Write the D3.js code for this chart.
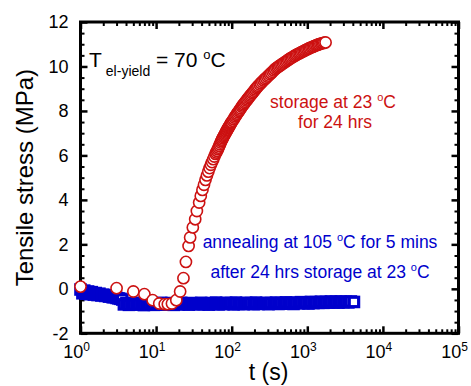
<!DOCTYPE html>
<html>
<head>
<meta charset="utf-8">
<script src="https://cdn.jsdelivr.net/npm/d3@7"></script>
<style>
  body { margin: 0; background: #fff; }
  svg { display: block; }
  text { font-family: "Liberation Sans", Arial, sans-serif; }
</style>
</head>
<body>
<div class="stress-chart"></div>
<script>
// storage at 23 C for 24 hrs (red circles)
var storedTime = [1, 3, 5, 7, 9, 11, 13, 14.3, 16.2, 18.5,
  20.8, 23, 24.8, 26.9, 28.2, 30.6, 32.9, 34.6, 37.1, 39,
  41, 43, 45, 47, 49, 51, 53, 55, 57, 59, 61,
  62.5, 64, 65.5, 67, 68.5, 70, 71.5, 73, 74.5, 76, 77.5, 79, 80.5,
  82, 83.5, 85, 86.5, 88, 89.5, 91, 92.5, 94, 95.5, 97, 98.5, 100,
  103, 106, 109, 112, 115, 118, 121.5, 125, 128.5, 132, 136, 140, 144, 148,
  152.5, 157, 161.5, 166, 171, 176, 181.5, 187, 193, 199, 205.5, 212, 218.5, 225,
  234, 243, 253, 263, 274, 285, 296, 308, 320, 333, 346, 360, 375, 390,
  406, 422, 439, 456, 475, 494, 514, 534, 556, 578, 601, 625, 651, 677,
  704, 732, 762, 792, 824, 857, 892, 928, 965, 1004, 1045, 1086, 1130, 1175,
  1223, 1272, 1323, 1376, 1432, 1489, 1549, 1611, 1676, 1745];
var storedStress = [0.10, 0.03, -0.12, -0.24, -0.51, -0.66, -0.69, -0.69, -0.66, -0.51,
  -0.12, 0.48, 1.21, 1.93, 2.31, 2.76, 3.13, 3.50, 3.88, 4.18,
  4.45, 4.68, 4.90, 5.10, 5.27, 5.43, 5.58, 5.70, 5.83, 5.95, 6.07,
  6.13, 6.20, 6.28, 6.35, 6.43, 6.50, 6.58, 6.65, 6.71, 6.77, 6.83, 6.88, 6.93,
  6.98, 7.03, 7.08, 7.13, 7.17, 7.22, 7.26, 7.30, 7.34, 7.38, 7.42, 7.46, 7.50,
  7.56, 7.63, 7.70, 7.76, 7.82, 7.88, 7.94, 8.00, 8.06, 8.12, 8.19, 8.25, 8.30, 8.36,
  8.41, 8.47, 8.52, 8.58, 8.63, 8.69, 8.74, 8.80, 8.85, 8.91, 8.97, 9.03, 9.08, 9.13,
  9.19, 9.25, 9.31, 9.37, 9.43, 9.48, 9.54, 9.59, 9.65, 9.70, 9.76, 9.82, 9.88, 9.93,
  9.97, 10.01, 10.05, 10.09, 10.13, 10.17, 10.21, 10.25, 10.29, 10.33, 10.37, 10.40, 10.44, 10.47,
  10.51, 10.54, 10.57, 10.60, 10.63, 10.66, 10.69, 10.72, 10.75, 10.78, 10.81, 10.83, 10.86, 10.88,
  10.91, 10.93, 10.96, 10.98, 11.00, 11.02, 11.04, 11.05, 11.07, 11.08];

// annealing at 105 C for 5 mins after storage (blue squares)
var annealedTime = [1.00, 1.06, 1.12, 1.19, 1.26, 1.33, 1.41, 1.50, 1.59, 1.68,
  1.78, 1.89, 2.00, 2.12, 2.25, 2.38, 2.52, 2.67, 2.83, 3.00, 3.18, 3.37, 3.57,
  3.75, 4.05, 4.37, 4.71, 5.08, 5.48, 5.92, 6.38, 6.89, 7.43,
  8.02, 8.65, 9.33, 10.1, 10.9, 11.7, 12.7, 13.7, 14.7, 15.9,
  17.1, 18.5, 19.9, 21.5, 23.2, 25.0, 27.0, 29.1, 31.4, 33.9,
  36.6, 39.5, 42.6, 45.9, 49.6, 53.5, 57.7, 62.2, 67.1, 72.4,
  78.1, 84.3, 91.0, 98.1, 106, 114, 123, 133, 144, 155,
  167, 180, 195, 210, 227, 245, 264, 285, 307, 331,
  358, 386, 416, 449, 485, 523, 564, 609, 657, 709,
  765, 825, 890, 960, 1036, 1118, 1206, 1301, 1404, 1515,
  1634, 1763, 1902, 2053, 2215, 2390, 2578, 2782, 3001, 3238,
  3494, 3770, 4140];
var annealedStress = [-0.03, -0.20, -0.08, -0.22, -0.12, -0.24, -0.15, -0.26, -0.19, -0.28,
  -0.22, -0.30, -0.26, -0.32, -0.29, -0.35, -0.33, -0.38, -0.37, -0.41, -0.43, -0.45, -0.48,
  -0.70, -0.64, -0.72, -0.66, -0.71, -0.63, -0.70, -0.67, -0.73, -0.65,
  -0.69, -0.64, -0.72, -0.66, -0.70, -0.63, -0.71, -0.67, -0.69, -0.64,
  -0.72, -0.66, -0.70, -0.63, -0.69, -0.65, -0.71, -0.64, -0.68, -0.66,
  -0.70, -0.63, -0.69, -0.65, -0.71, -0.64, -0.68, -0.62, -0.70, -0.65,
  -0.69, -0.63, -0.67, -0.64, -0.70, -0.62, -0.68, -0.65, -0.69, -0.63,
  -0.67, -0.64, -0.69, -0.62, -0.68, -0.65, -0.67, -0.63, -0.69, -0.64,
  -0.66, -0.62, -0.68, -0.64, -0.67, -0.61, -0.66, -0.63, -0.68, -0.62,
  -0.65, -0.60, -0.64, -0.61, -0.66, -0.59, -0.64, -0.60, -0.63, -0.58,
  -0.63, -0.59, -0.62, -0.57, -0.61, -0.58, -0.62, -0.57, -0.60, -0.58,
  -0.61, -0.57, -0.59];

var yTicks = [-2, 0, 2, 4, 6, 8, 10, 12];
var yMinorStep = 0.5;
var xExponents = [0, 1, 2, 3, 4, 5];
var xMinorFactors = [2, 3, 4, 5, 6, 7, 8, 9];

var red = "#cc1111", blue = "#0000cc";
var width = 471, height = 386;
var plotLeft = 80.5, plotRight = 458.5, plotTop = 22, plotBottom = 333.3;

var svg = d3.select(".stress-chart").append("svg")
  .attr("width", width).attr("height", height);

var x = d3.scaleLog().domain([1, 1e5]).range([plotLeft, plotRight]);
var y = d3.scaleLinear().domain([-2, 12]).range([plotBottom, plotTop]);

var xMajor = xExponents.map(function (e) { return Math.pow(10, e); });
var xMinor = [];
xExponents.slice(0, -1).forEach(function (e) {
  xMinorFactors.forEach(function (f) { xMinor.push(f * Math.pow(10, e)); });
});
var yMinor = d3.range(-2, 12 + 1e-9, yMinorStep).filter(function (v) { return yTicks.indexOf(v) < 0; });

// ticks on all four sides, pointing inward
function ticks(axis, vals, size, sw, tx, ty) {
  var g = svg.append("g").attr("transform", "translate(" + tx + "," + ty + ")")
    .call(axis.tickValues(vals).tickSize(-size).tickSizeOuter(0).tickFormat(""));
  g.select(".domain").remove();
  g.selectAll("line").attr("stroke", "#000").attr("stroke-width", sw);
  return g;
}
ticks(d3.axisBottom(x), xMajor, 7, 2.5, 0, plotBottom);
ticks(d3.axisBottom(x), xMinor, 4, 2, 0, plotBottom);
ticks(d3.axisTop(x), xMajor, 7, 2.5, 0, plotTop);
ticks(d3.axisTop(x), xMinor, 4, 2, 0, plotTop);
ticks(d3.axisLeft(y), yTicks, 7, 2.5, plotLeft, 0);
ticks(d3.axisLeft(y), yMinor, 4, 2, plotLeft, 0);
ticks(d3.axisRight(y), yTicks, 7, 2.5, plotRight, 0);
ticks(d3.axisRight(y), yMinor, 4, 2, plotRight, 0);

svg.append("rect")
  .attr("x", plotLeft).attr("y", plotTop)
  .attr("width", plotRight - plotLeft).attr("height", plotBottom - plotTop)
  .attr("fill", "none").attr("stroke", "#000").attr("stroke-width", 3);

// tick labels
svg.append("g").selectAll("text").data(yTicks).enter().append("text")
  .attr("x", plotLeft - 12).attr("y", function (d) { return y(d); })
  .attr("dy", "0.35em").attr("text-anchor", "end")
  .style("font-size", "18px")
  .text(function (d) { return d; });

var xl = svg.append("g").selectAll("text").data(xExponents).enter().append("text")
  .attr("x", function (d) { return x(Math.pow(10, d)) - 4; })
  .attr("y", 358).attr("text-anchor", "middle")
  .style("font-size", "18px");
xl.append("tspan").text("10");
xl.append("tspan").attr("dy", -7.5).style("font-size", "12px").text(function (d) { return d; });

// axis titles
svg.append("text")
  .attr("x", (plotLeft + plotRight) / 2 - 1).attr("y", 380)
  .attr("text-anchor", "middle").style("font-size", "23px")
  .text("t (s)");
svg.append("text")
  .attr("transform", "translate(33," + ((plotTop + plotBottom) / 2) + ") rotate(-90)")
  .attr("text-anchor", "middle").style("font-size", "24px")
  .text("Tensile stress (MPa)");

// annealed series first, stored series on top
svg.append("g").selectAll("rect")
  .data(annealedTime.map(function (t, i) { return [t, annealedStress[i]]; }))
  .enter().append("rect")
  .attr("x", function (d) { return x(d[0]) - 4.7; })
  .attr("y", function (d) { return y(d[1]) - 4.7; })
  .attr("width", 9.4).attr("height", 9.4)
  .attr("fill", "#fff").attr("stroke", blue).attr("stroke-width", 3.2);

svg.append("g").selectAll("circle")
  .data(storedTime.map(function (t, i) { return [t, storedStress[i]]; }))
  .enter().append("circle")
  .attr("cx", function (d) { return x(d[0]); })
  .attr("cy", function (d) { return y(d[1]); })
  .attr("r", 5.6)
  .attr("fill", "#fff").attr("stroke", red).attr("stroke-width", 1.6);

// annotations
var note = svg.append("text").attr("x", 89).attr("y", 67).style("font-size", "21px");
note.append("tspan").text("T");
note.append("tspan").attr("dx", 4).attr("dy", 9).style("font-size", "14px").text("el-yield");
note.append("tspan").attr("dy", -9).text(" = 70 ");
note.append("tspan").attr("dy", -8).style("font-size", "13px").text("o");
note.append("tspan").attr("dy", 8).text("C");

function label(txt, px, py, color, tail) {
  var t = svg.append("text").attr("x", px).attr("y", py)
    .attr("text-anchor", "middle").style("font-size", "17.5px").attr("fill", color);
  t.append("tspan").text(txt);
  if (tail) {
    t.append("tspan").attr("dy", -7).style("font-size", "11px").text("o");
    t.append("tspan").attr("dy", 7).text(tail);
  }
}
label("storage at 23 ", 333, 108, red, "C");
label("for 24 hrs", 335, 128, red);
label("annealing at 105 ", 320, 248, blue, "C for 5 mins");
label("after 24 hrs storage at 23 ", 320, 278, blue, "C");
</script>
</body>
</html>
